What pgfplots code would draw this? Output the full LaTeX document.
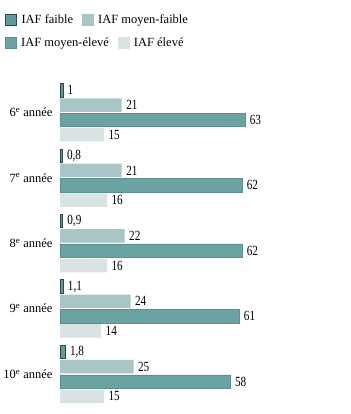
\documentclass[border=0pt]{standalone}
\usepackage{fontspec}
\setmainfont{Liberation Serif}
\newfontfamily\condf[FakeStretch=0.8]{Liberation Serif}
\usepackage{pgfplots}
\pgfplotsset{compat=1.18}
\definecolor{c1}{HTML}{5E9A9A}
\definecolor{c1d}{HTML}{2E4A4A}
\definecolor{c2}{HTML}{A8C6C6}
\definecolor{c3}{HTML}{6BA3A3}
\definecolor{c3d}{HTML}{5A9090}
\definecolor{c4}{HTML}{D9E3E3}
\newcommand{\lf}{\fontsize{12.5}{15}\selectfont}
\newcommand{\tf}{\fontsize{12.5}{15}\selectfont}
\newcommand{\vf}{\condf\fontsize{14}{16}\selectfont}
\begin{document}
\begin{tikzpicture}
\path[use as bounding box] (0,0) rectangle (350pt,414pt);
\begin{axis}[
  at={(60pt,334.2pt)}, anchor=north west,
  x=2.94pt, y=65.4pt, y dir=reverse,
  xmin=0, xmax=95, ymin=-0.5, ymax=4.5,
  xbar, bar width=13.5pt,
  axis line style={draw=none}, xtick=\empty,
  ytick={0,1,2,3,4},
  yticklabels={6\textsuperscript{e} année,7\textsuperscript{e} année,8\textsuperscript{e} année,9\textsuperscript{e} année,10\textsuperscript{e} année},
  major tick length=0pt,
  yticklabel style={font=\tf, xshift=-4pt},
  clip=false,
  nodes near coords={\pgfmathprintnumber[use comma,assume math mode=true]{\pgfplotspointmeta}},
  every node near coord/.append style={font=\vf, xshift=1pt},
]
\addplot[fill=c1, draw=c1d, line width=0.8pt, bar shift=22.2pt] coordinates {(1,0) (0.8,1) (0.9,2) (1.1,3) (1.8,4)};
\addplot[fill=c2, draw=none, bar shift=7.4pt] coordinates {(21,0) (21,1) (22,2) (24,3) (25,4)};
\addplot[fill=c3, draw=c3d, line width=0.5pt, bar shift=-7.4pt] coordinates {(63,0) (62,1) (62,2) (61,3) (58,4)};
\addplot[fill=c4, draw=none, bar shift=-22.2pt] coordinates {(15,0) (16,1) (16,2) (14,3) (15,4)};
\end{axis}
\pgfplotsset{legrow/.style={hide axis, scale only axis, width=10pt, height=10pt,
  xmin=0, xmax=1, ymin=0, ymax=1, anchor=west,
  legend style={at={(0,0.5)}, anchor=west, draw=none, fill=none, inner sep=0pt,
    font=\lf, legend columns=-1, legend cell align=left,
    /tikz/every odd column/.append style={column sep=2.5pt},
    /tikz/every even column/.append style={column sep=7pt}},
  legend image code/.code={\draw[##1] (0pt,-5.5pt) rectangle (11pt,5.5pt);}}}
\begin{axis}[legrow, at={(5pt,394pt)}]
\addlegendimage{fill=c1, draw=c1d, line width=0.8pt}
\addlegendentry{IAF faible}
\addlegendimage{fill=c2, draw=c2}
\addlegendentry{IAF moyen-faible}
\end{axis}
\begin{axis}[legrow, at={(5pt,371.5pt)}]
\addlegendimage{fill=c3, draw=c3d, line width=0.5pt}
\addlegendentry{IAF moyen-élevé}
\addlegendimage{fill=c4, draw=c4}
\addlegendentry{IAF élevé}
\end{axis}
\end{tikzpicture}
\end{document}
